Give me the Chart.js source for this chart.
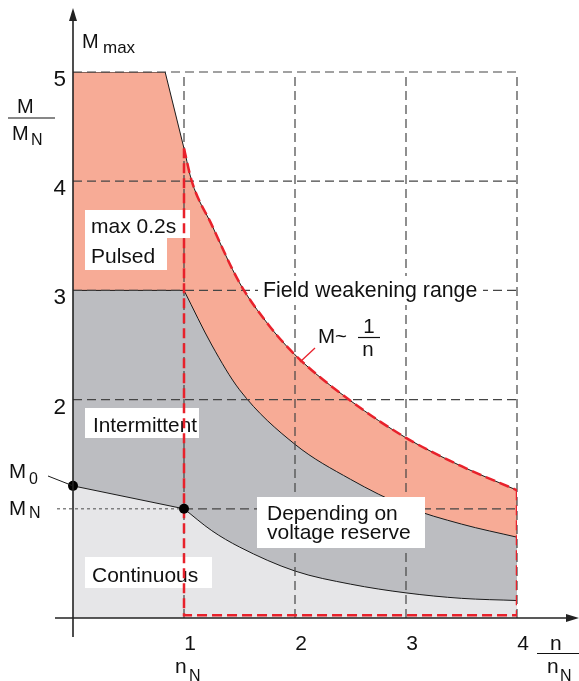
<!DOCTYPE html>
<html>
<head>
<meta charset="utf-8">
<script src="https://cdn.jsdelivr.net/npm/chart.js@4.4.1/dist/chart.umd.min.js"></script>
<style>
  html, body { margin: 0; padding: 0; background: #fff; }
  canvas { display: block; }
</style>
</head>
<body>
<canvas id="chart" width="579" height="681"></canvas>
<script>
// torque M/MN against speed n/nN, operating ranges
const pulsedFlatX = [0, 0.83, 1];
const pulsedFlatY = [5, 5, 4.3];
const pulsedCurveX = [1, 1.07, 1.25, 1.5, 1.75, 2, 2.5, 3, 3.5, 4];
const pulsedCurveY = [4.3, 4.0, 3.6, 3.07, 2.7, 2.41, 1.99, 1.65, 1.39, 1.17];
const intermittentFlatX = [0, 1];
const intermittentFlatY = [3, 3];
const intermittentCurveX = [1, 1.25, 1.5, 2, 2.5, 3, 3.5, 4];
const intermittentCurveY = [3, 2.5, 2.09, 1.59, 1.27, 1.02, 0.86, 0.74];
const continuousFlatX = [0, 1];
const continuousFlatY = [1.21, 1.0];
const continuousCurveX = [1, 1.25, 1.5, 2, 2.5, 3, 3.5, 4];
const continuousCurveY = [1.0, 0.8, 0.65, 0.43, 0.31, 0.23, 0.18, 0.16];
// field weakening range outline (right side, bottom, left side)
const fieldEdgeX = [4, 4, 1, 1];
const fieldEdgeY = [1.17, 0.025, 0.025, 4.3];
const markerX = [0, 1];   // M0 and MN points
const markerY = [1.21, 1.0];
const xTicks = [1, 2, 3, 4];
const yTicks = [2, 3, 4, 5];

const FONT = '"Liberation Sans", Arial, sans-serif';
const SALMON = '#f7ab96';
const DARK = '#bcbdc1';
const LIGHT = '#e6e6e8';
const RED = '#e8212b';

const pts = (xs, ys) => xs.map((v, i) => ({ x: v, y: ys[i] }));

function area(label, xs, ys, color, order, curved) {
  return {
    label: label,
    data: pts(xs, ys),
    backgroundColor: color,
    borderColor: '#1a1a1a',
    borderWidth: 1,
    fill: 'origin',
    pointRadius: 0,
    tension: 0,
    cubicInterpolationMode: curved ? 'monotone' : 'default',
    order: order,
  };
}

const overlay = {
  id: 'overlay',
  afterDatasetDraw(chart, args) {
    if (chart.data.datasets[args.index].label !== 'continuous curve') return;
    const { ctx } = chart;
    const x = chart.scales.x, y = chart.scales.y;
    const px = (v) => x.getPixelForValue(v);
    const py = (v) => y.getPixelForValue(v);
    const line = (x1, y1, x2, y2) => {
      ctx.beginPath(); ctx.moveTo(x1, y1); ctx.lineTo(x2, y2); ctx.stroke();
    };
    ctx.save();
    // dashed grid on top of the fills
    ctx.strokeStyle = '#454545';
    ctx.lineWidth = 1.2;
    ctx.setLineDash([9, 5]);
    xTicks.forEach((v) => line(px(v), py(0), px(v), py(5)));
    yTicks.forEach((v) => line(px(0), py(v), px(4), py(v)));
    line(px(1), py(1), px(4), py(1));
    ctx.setLineDash([3, 3]);
    ctx.strokeStyle = '#666';
    line(57, py(1), px(1), py(1));
    ctx.setLineDash([]);

    // white label boxes
    const box = (x1, y1, x2, y2) => { ctx.fillStyle = '#fff'; ctx.fillRect(x1, y1, x2 - x1, y2 - y1); };
    const text = (s, tx, ty, size, align) => {
      ctx.fillStyle = '#111';
      ctx.font = size + 'px ' + FONT;
      ctx.textAlign = align || 'left';
      ctx.textBaseline = 'alphabetic';
      ctx.fillText(s, tx, ty);
    };
    box(85, 210, 190, 238); text('max 0.2s', 91, 233, 21);
    box(85, 238, 167, 270); text('Pulsed', 91, 263, 21);
    box(85, 408, 199, 438); text('Intermittent', 93, 432, 20.8);
    box(85, 557, 212, 588); text('Continuous', 92, 582, 21);
    box(257, 497, 425, 548);
    text('Depending on', 267, 520, 21);
    text('voltage reserve', 267, 539, 21);
    box(258, 276, 483, 305); text('Field weakening range', 263, 297, 21.3);
    ctx.restore();
  },
  afterDraw(chart) {
    const { ctx } = chart;
    const x = chart.scales.x, y = chart.scales.y;
    const px = (v) => x.getPixelForValue(v);
    const py = (v) => y.getPixelForValue(v);
    const text = (s, tx, ty, size, align) => {
      ctx.fillStyle = '#111';
      ctx.font = size + 'px ' + FONT;
      ctx.textAlign = align || 'left';
      ctx.textBaseline = 'alphabetic';
      ctx.fillText(s, tx, ty);
    };
    ctx.save();
    // axes with arrows
    ctx.strokeStyle = '#222';
    ctx.fillStyle = '#222';
    ctx.lineWidth = 1.6;
    const x0 = px(0), y0 = py(0);
    ctx.beginPath(); ctx.moveTo(x0, 637); ctx.lineTo(x0, 18); ctx.stroke();
    ctx.beginPath(); ctx.moveTo(55, y0); ctx.lineTo(569, y0); ctx.stroke();
    ctx.beginPath(); ctx.moveTo(x0, 8); ctx.lineTo(x0 - 4, 21); ctx.lineTo(x0 + 4, 21); ctx.closePath(); ctx.fill();
    ctx.beginPath(); ctx.moveTo(579, y0); ctx.lineTo(566, y0 - 4); ctx.lineTo(566, y0 + 4); ctx.closePath(); ctx.fill();

    // leaders
    ctx.lineWidth = 1;
    ctx.strokeStyle = '#1a1a1a';
    ctx.beginPath(); ctx.moveTo(48, 476); ctx.lineTo(x0, py(markerY[0])); ctx.stroke();
    ctx.strokeStyle = RED;
    ctx.lineWidth = 1.3;
    ctx.beginPath(); ctx.moveTo(300, 362); ctx.lineTo(315, 348); ctx.stroke();

    // tick labels
    yTicks.forEach((v) => text(String(v), 66, py(v) + 14, 22.5, 'right'));
    xTicks.forEach((v) => text(String(v), px(v) + 6, 650, 21, 'center'));

    // axis titles and symbols
    text('M', 82, 48, 20); text('max', 103, 53, 17);
    text('M', 17, 113, 20);
    ctx.lineWidth = 1.2; ctx.strokeStyle = '#111';
    ctx.beginPath(); ctx.moveTo(8, 118); ctx.lineTo(55, 118); ctx.stroke();
    text('M', 12, 140, 20); text('N', 31, 145, 16);
    text('M', 9, 478, 20.5); text('0', 29, 484, 16);
    text('M', 9, 515, 20.5); text('N', 29, 518, 16);
    text('n', 175, 673, 21); text('N', 189, 681, 16);
    text('n', 550, 650, 21);
    ctx.beginPath(); ctx.moveTo(537, 653.5); ctx.lineTo(579, 653.5); ctx.stroke();
    text('n', 547, 673, 21); text('N', 560, 681, 16);
    text('M~', 318, 343, 20.5);
    text('1', 369, 333, 20.5, 'center');
    ctx.beginPath(); ctx.moveTo(358, 337.5); ctx.lineTo(380, 337.5); ctx.stroke();
    text('n', 368, 356, 20.5, 'center');
    ctx.restore();
  },
};

new Chart(document.getElementById('chart'), {
  type: 'line',
  data: {
    datasets: [
      area('pulsed flat', pulsedFlatX, pulsedFlatY, SALMON, 20, false),
      area('pulsed curve', pulsedCurveX, pulsedCurveY, SALMON, 19, true),
      area('intermittent flat', intermittentFlatX, intermittentFlatY, DARK, 18, false),
      area('intermittent curve', intermittentCurveX, intermittentCurveY, DARK, 17, true),
      area('continuous flat', continuousFlatX, continuousFlatY, LIGHT, 16, false),
      area('continuous curve', continuousCurveX, continuousCurveY, LIGHT, 15, true),
      {
        label: 'field weakening curve',
        data: pts(pulsedCurveX, pulsedCurveY),
        borderColor: RED,
        borderWidth: 2.5,
        borderDash: [10, 5],
        fill: false,
        pointRadius: 0,
        cubicInterpolationMode: 'monotone',
        order: 3,
      },
      {
        label: 'field weakening edge',
        data: pts(fieldEdgeX, fieldEdgeY),
        borderColor: RED,
        borderWidth: 2.5,
        borderDash: [10, 5],
        fill: false,
        pointRadius: 0,
        tension: 0,
        order: 2,
      },
      {
        label: 'markers',
        data: pts(markerX, markerY),
        showLine: false,
        pointRadius: 5,
        pointBackgroundColor: '#000',
        pointBorderColor: '#000',
        pointBorderWidth: 0,
        clip: false,
        order: 1,
      },
    ],
  },
  options: {
    responsive: false,
    animation: false,
    devicePixelRatio: 1,
    layout: { padding: { left: 73, right: 62, top: 72, bottom: 63 } },
    plugins: { legend: { display: false }, tooltip: { enabled: false } },
    scales: {
      x: { type: 'linear', min: 0, max: 4, display: false },
      y: { type: 'linear', min: 0, max: 5, display: false },
    },
  },
  plugins: [overlay],
});
</script>
</body>
</html>
